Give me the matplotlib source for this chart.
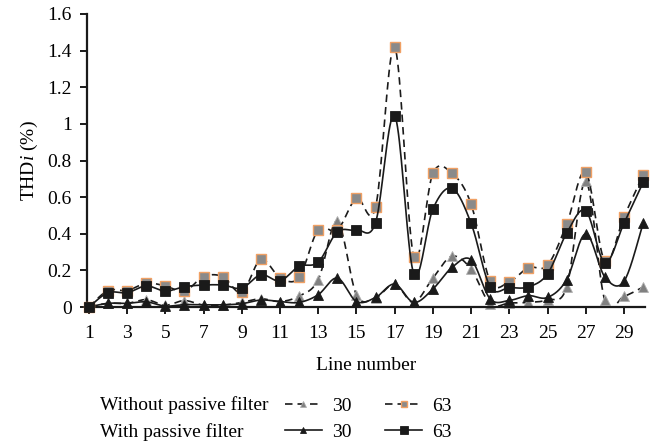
import numpy as np
import matplotlib
matplotlib.use("Agg")
import matplotlib.pyplot as plt
from matplotlib.lines import Line2D

plt.rcParams['font.family'] = ['Liberation Serif', 'DejaVu Serif']
plt.rcParams['mathtext.fontset'] = 'custom'
plt.rcParams['mathtext.rm'] = 'Liberation Serif'
plt.rcParams['mathtext.it'] = 'Liberation Serif:italic'

line_numbers = list(range(1, 31))

without_30 = [0.0, 0.02, 0.02, 0.04, 0.01, 0.035, 0.01, 0.01, 0.025, 0.045,
              0.03, 0.06, 0.149, 0.468, 0.067, 0.05, 0.125, 0.025, 0.158, 0.277,
              0.207, 0.016, 0.022, 0.025, 0.04, 0.109, 0.686, 0.036, 0.058, 0.109]
with_30 = [0.0, 0.02, 0.02, 0.028, 0.005, 0.013, 0.012, 0.012, 0.018, 0.038,
           0.03, 0.025, 0.067, 0.158, 0.03, 0.052, 0.125, 0.025, 0.098, 0.216,
           0.258, 0.044, 0.036, 0.062, 0.052, 0.149, 0.4, 0.164, 0.14, 0.457]
without_63 = [0.0, 0.09, 0.09, 0.13, 0.115, 0.086, 0.166, 0.166, 0.08, 0.26,
              0.16, 0.162, 0.423, 0.42, 0.594, 0.545, 1.42, 0.275, 0.73, 0.73,
              0.562, 0.14, 0.138, 0.215, 0.228, 0.452, 0.736, 0.25, 0.493, 0.72]
with_63 = [0.0, 0.078, 0.078, 0.115, 0.087, 0.111, 0.12, 0.12, 0.103, 0.176,
           0.143, 0.222, 0.245, 0.41, 0.42, 0.461, 1.045, 0.181, 0.535, 0.648,
           0.457, 0.11, 0.106, 0.11, 0.181, 0.403, 0.526, 0.242, 0.457, 0.68]

xticks = list(range(1, 30, 2))
yticks = [0, 0.2, 0.4, 0.6, 0.8, 1.0, 1.2, 1.4, 1.6]
ytick_labels = ['0', '0.2', '0.4', '0.6', '0.8', '1', '1.2', '1.4', '1.6']


def smooth(x, y, n=20):
    """Excel-style smoothed line (cubic Bezier, Catmull-Rom tangents)."""
    x = np.asarray(x, float)
    y = np.asarray(y, float)
    px = np.concatenate([[x[0]], x, [x[-1]]])
    py = np.concatenate([[y[0]], y, [y[-1]]])
    xs, ys = [], []
    t = np.linspace(0, 1, n, endpoint=False)
    for i in range(len(x) - 1):
        p0 = np.array([px[i + 1], py[i + 1]])
        p3 = np.array([px[i + 2], py[i + 2]])
        c1 = p0 + (np.array([px[i + 2], py[i + 2]]) - np.array([px[i], py[i]])) / 6
        c2 = p3 - (np.array([px[i + 3], py[i + 3]]) - np.array([px[i + 1], py[i + 1]])) / 6
        b = ((1 - t) ** 3)[:, None] * p0 + (3 * (1 - t) ** 2 * t)[:, None] * c1 \
            + (3 * (1 - t) * t ** 2)[:, None] * c2 + (t ** 3)[:, None] * p3
        xs.extend(b[:, 0]); ys.extend(b[:, 1])
    xs.append(x[-1]); ys.append(y[-1])
    return np.array(xs), np.array(ys)


fig = plt.figure(figsize=(6.65, 4.47), dpi=100)
ax = fig.add_axes([87 / 665, 1 - 307 / 447, (645 - 87) / 665, (307 - 14) / 447])

dash = (4.5, 3)
black = '#1a1a1a'
series = [
    (without_30, dict(ls='--', dashes=dash), dict(marker='^', ms=6.5, mfc='#808080', mec='#b0b0b0', mew=0.6)),
    (with_30, dict(ls='-'), dict(marker='^', ms=6.5, mfc=black, mec=black, mew=0.6)),
    (without_63, dict(ls='--', dashes=dash), dict(marker='s', ms=6.5, mfc='#8a8a8a', mec='#f0a064', mew=1.0)),
    (with_63, dict(ls='-'), dict(marker='s', ms=7, mfc=black, mec=black, mew=0.6)),
]
handles = []
for z, (vals, lstyle, mstyle) in enumerate(series):
    sx, sy = smooth(line_numbers, vals)
    ax.plot(sx, sy, color=black, lw=1.2, zorder=2 + z, **lstyle)
    ax.plot(line_numbers, vals, ls='none', zorder=2 + z, clip_on=False, **mstyle)
    h = Line2D([], [], color=black, lw=1.2, **lstyle, **mstyle)
    handles.append(h)

ax.set_xlim(0.9, 30.1)
ax.set_ylim(0, 1.6)
ax.set_xticks(xticks)
ax.set_xticklabels([str(v) for v in xticks])
ax.set_yticks(yticks)
ax.set_yticklabels(ytick_labels)
for s in ['top', 'right']:
    ax.spines[s].set_visible(False)
for s in ['left', 'bottom']:
    ax.spines[s].set_linewidth(1.6)
    ax.spines[s].set_color(black)
ax.tick_params(axis='both', direction='out', length=5, width=1.4, labelsize=14,
               color=black)
ax.tick_params(axis='x', pad=8)
ax.tick_params(axis='y', pad=6)
ax.set_xlabel('Line number', fontsize=14, labelpad=11)
ax.set_ylabel('THD$\\it{i}$ (%)', fontsize=14, labelpad=5)

fig.text(100 / 665, 1 - 405 / 447, 'Without passive filter', fontsize=14, va='center', ha='left')
fig.text(100 / 665, 1 - 432 / 447, 'With passive filter', fontsize=14, va='center', ha='left')
leg = fig.legend([handles[0], handles[1], handles[2], handles[3]], ['30', '30', '63', '63'],
                 ncol=2, loc='center left', bbox_to_anchor=(285 / 665, 1 - 419 / 447),
                 frameon=False, fontsize=14, handlelength=1.9, handletextpad=0.5,
                 columnspacing=1.75, labelspacing=0.42, borderpad=0, borderaxespad=0,
                 markerscale=0.75)

fig.savefig('out.png', dpi=100)
